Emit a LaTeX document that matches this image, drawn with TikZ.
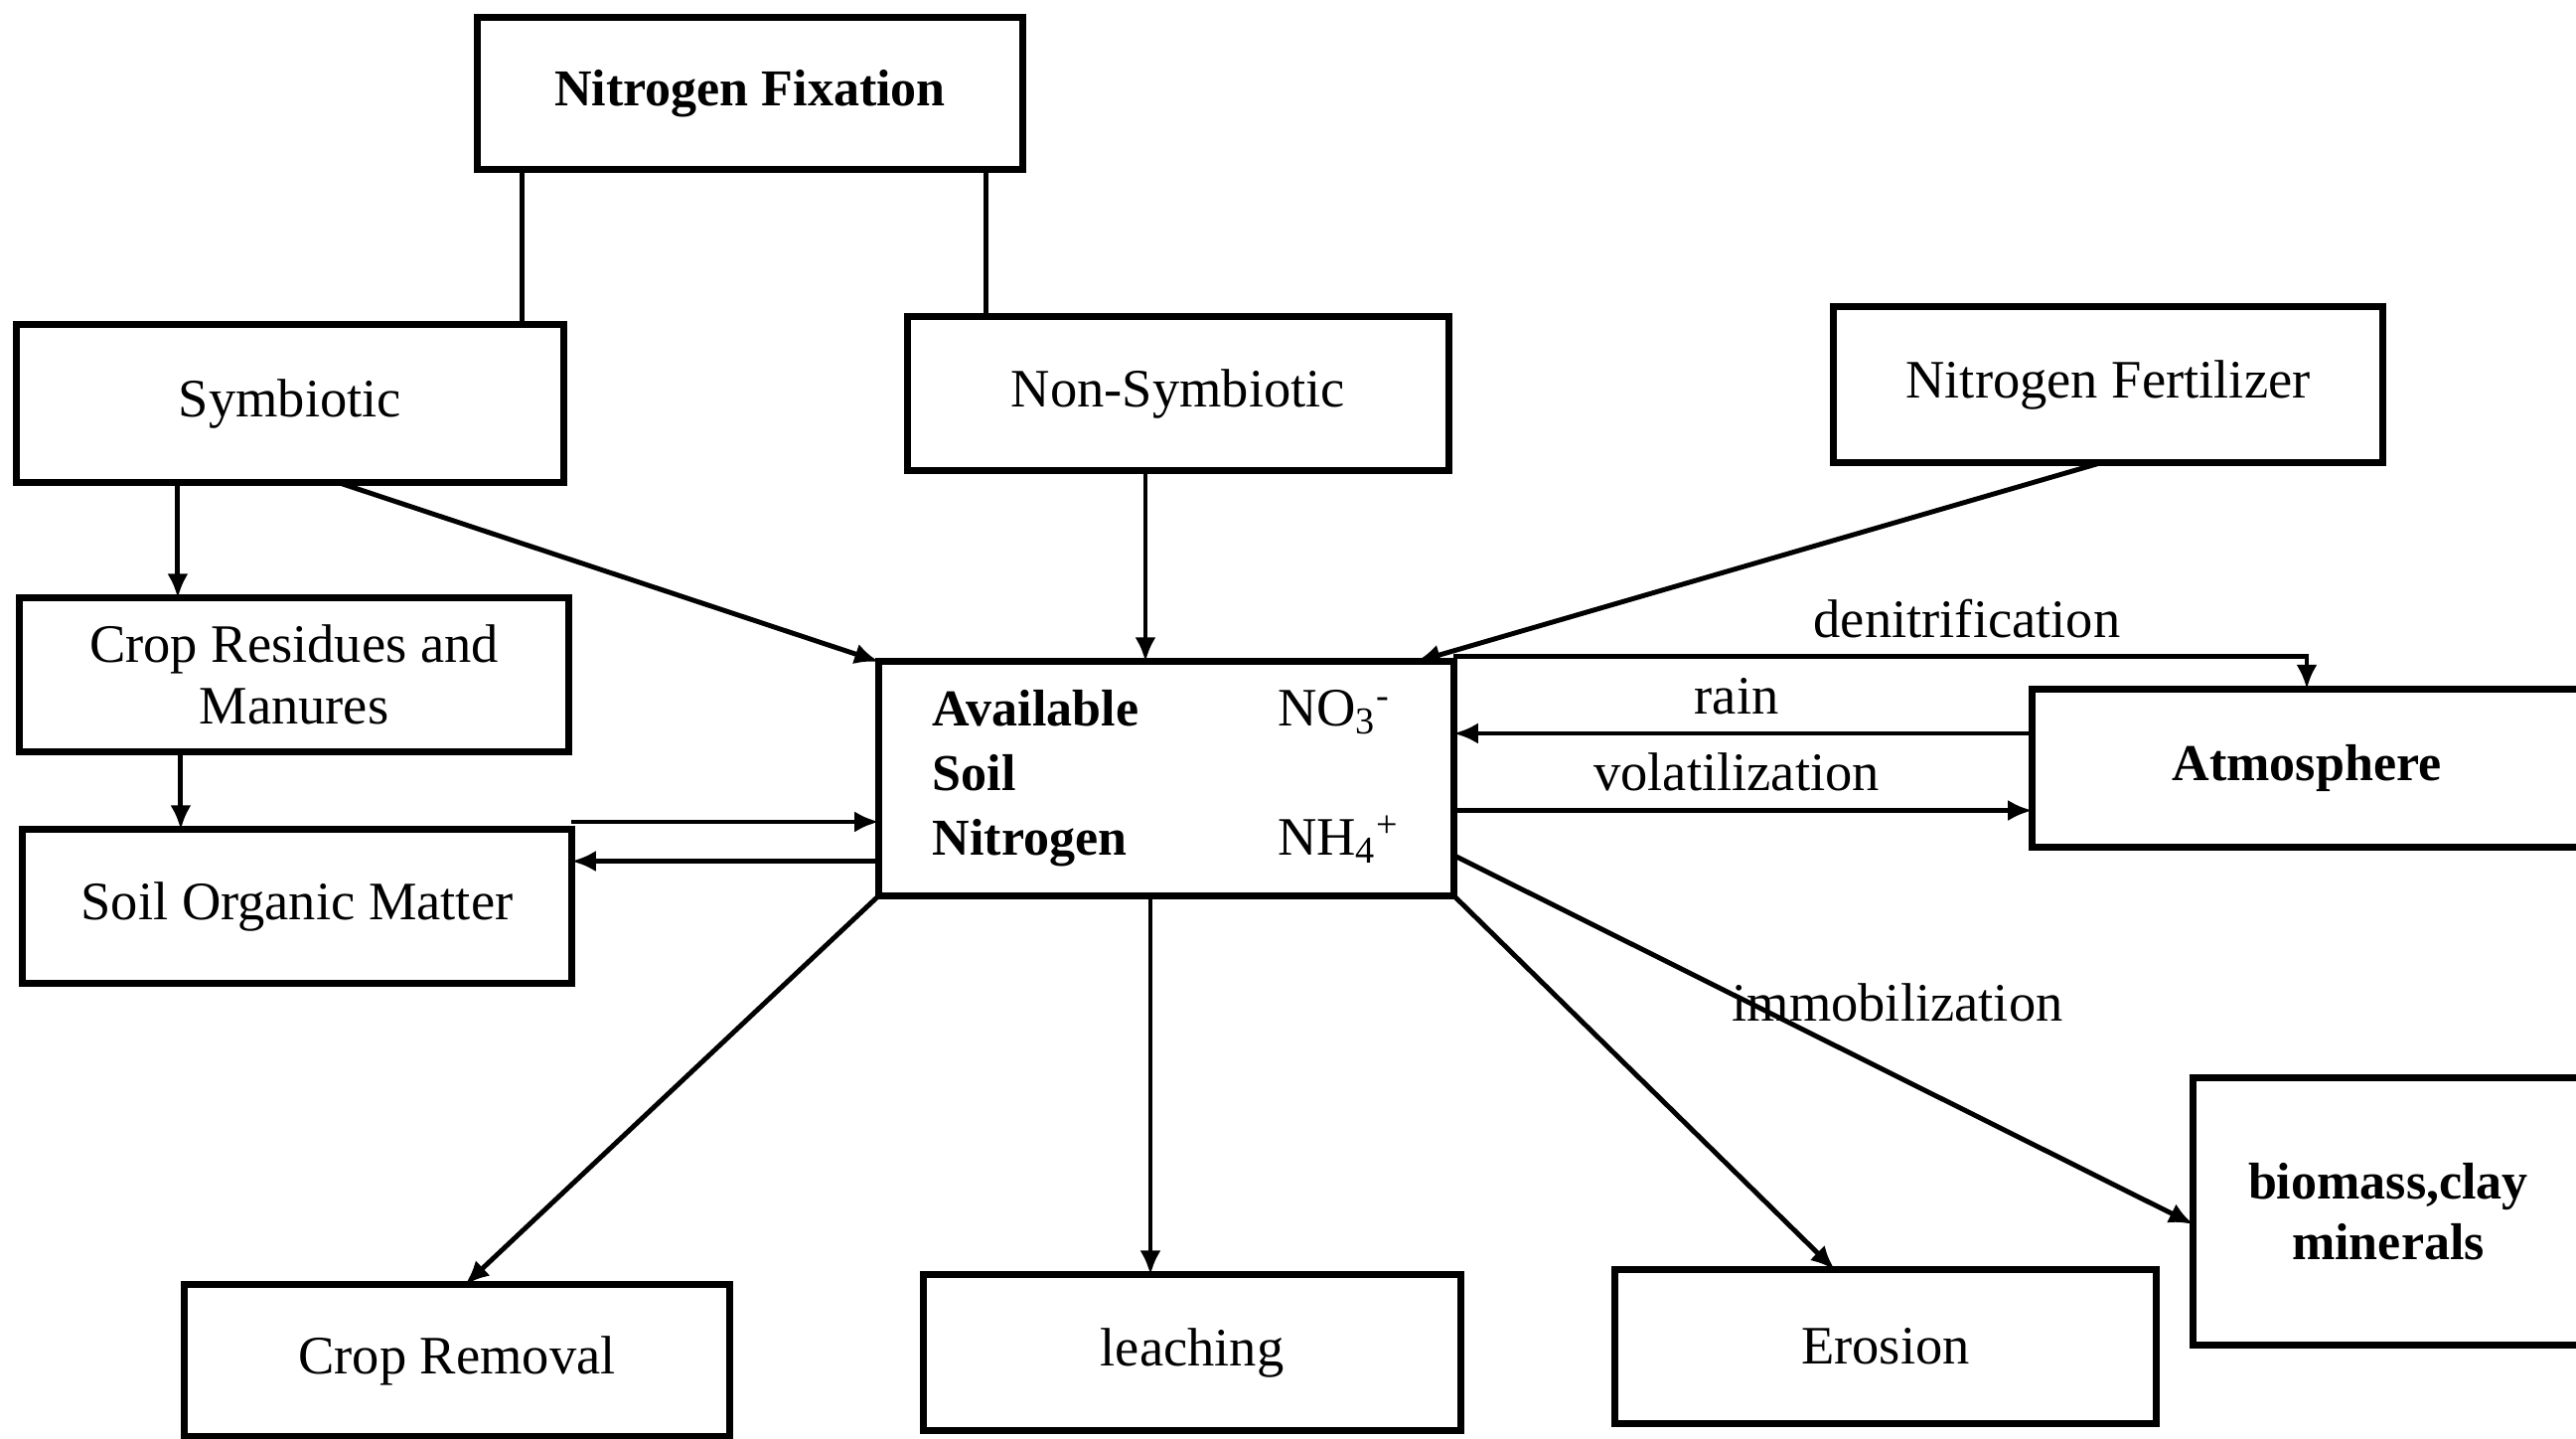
\documentclass[tikz,border=0pt]{standalone}
\usepackage{fontspec}
\setmainfont{Liberation Serif}
\usetikzlibrary{arrows.meta,calc}
\begin{document}
\begin{tikzpicture}[x=0.01cm,y=-0.01cm,
  box/.style={draw, line width=2pt, inner sep=0pt, outer sep=0pt, align=center,
    font=\fontsize{15.5}{17.5}\selectfont},
  bbox/.style={box, font=\fontsize{14.8}{17.5}\selectfont\bfseries},
  conn/.style={line width=1.4pt},
  arr/.style={conn, -{Latex[length=7pt,width=6pt]}},
  lbl/.style={inner sep=1pt, font=\fontsize{15.5}{17.5}\selectfont}]
\useasboundingbox (0,0) rectangle (2593,1448);
\fill[white] (0,0) rectangle (2593,1448);

\node[bbox, minimum width=5.49cm, minimum height=1.52cm] (fix) at (755,94) {Nitrogen Fixation};
\node[box, minimum width=5.50cm, minimum height=1.58cm] (sym) at (292,406) {Symbiotic};
\node[box, minimum width=5.45cm, minimum height=1.54cm] (nonsym) at (1186,396) {Non-Symbiotic};
\node[box, minimum width=5.52cm, minimum height=1.56cm] (fert) at (2122,387) {Nitrogen Fertilizer};
\node[box, minimum width=5.52cm, minimum height=1.54cm] (crop) at (296,679) {Crop Residues and\\Manures};
\node[box, minimum width=5.52cm, minimum height=1.54cm] (som) at (299,912) {Soil Organic Matter};
\node[box, minimum width=5.78cm, minimum height=2.35cm] (avail) at (1174,783.5)
  {\begin{tabular}{@{}l@{\hspace{1.4cm}}l@{}}
   \fontsize{14.8}{17.5}\selectfont\textbf{Available} & NO\textsubscript{3}\textsuperscript{-}\\[1pt]
   \fontsize{14.8}{17.5}\selectfont\textbf{Soil} & \\[1pt]
   \fontsize{14.8}{17.5}\selectfont\textbf{Nitrogen} & NH\textsubscript{4}\textsuperscript{+}
   \end{tabular}};
\node[bbox, minimum width=5.52cm, minimum height=1.59cm] (atm) at (2322,773) {Atmosphere};
\node[bbox, minimum width=3.92cm, minimum height=2.68cm] (bio) at (2404,1219) {biomass,clay\\minerals};
\node[box, minimum width=5.49cm, minimum height=1.52cm] (crem) at (460,1369) {Crop Removal};
\node[box, minimum width=5.41cm, minimum height=1.56cm] (leach) at (1200,1361) {leaching};
\node[box, minimum width=5.45cm, minimum height=1.54cm] (eros) at (1898,1355) {Erosion};

% nitrogen fixation branches
\draw[conn] ([xshift=-2.29cm]fix.south) -- ([xshift=-2.29cm]fix.south |- sym.north);
\draw[conn] ([xshift=2.37cm]fix.south) -- ([xshift=2.37cm]fix.south |- nonsym.north);

% inputs
\draw[arr] ([xshift=-1.13cm]sym.south) -- ([xshift=-1.13cm]sym.south |- crop.north);
\draw[arr] ([xshift=0.47cm]sym.south) -- (avail.north west);
\draw[arr] ([xshift=-0.33cm]nonsym.south) -- ([xshift=-0.33cm]nonsym.south |- avail.north);
\draw[arr] ([xshift=-0.05cm]fert.south) -- ([xshift=-0.38cm]avail.north east);
\draw[arr] ([xshift=-1.14cm]crop.south) -- ([xshift=-1.14cm]crop.south |- som.north);

% soil organic matter exchange
\draw[arr] ([yshift=0.08cm]som.north east) -- ([yshift=0.08cm]som.north east -| avail.west);
\draw[arr] ([yshift=-0.83cm]avail.west) -- ([yshift=-0.83cm]avail.west -| som.east);

% atmosphere exchange
\draw[arr] ([yshift=0.05cm]avail.north east) -| (atm.north);
\node[lbl] (ldenit) at (1980,623) {denitrification};
\draw[arr] ([yshift=0.35cm]atm.west) -- ([yshift=0.35cm]atm.west -| avail.east);
\node[lbl] (lrain) at (1748,701) {rain};
\draw[arr] ([yshift=-0.32cm]avail.east) -- ([yshift=-0.32cm]avail.east -| atm.west);
\node[lbl] (lvol) at (1748,777) {volatilization};

% losses
\draw[arr] (avail.south west) -- ([xshift=0.08cm]crem.north);
\draw[arr] ([xshift=-0.16cm]avail.south) -- ([xshift=-0.16cm]avail.south |- leach.north);
\draw[arr] (avail.south east) -- ([xshift=-0.51cm]eros.north);
\draw[arr] ([yshift=-0.77cm]avail.east) -- ([yshift=-0.13cm]bio.west);
\node[lbl] (limm) at (1910,1009) {immobilization};
\end{tikzpicture}
\end{document}
